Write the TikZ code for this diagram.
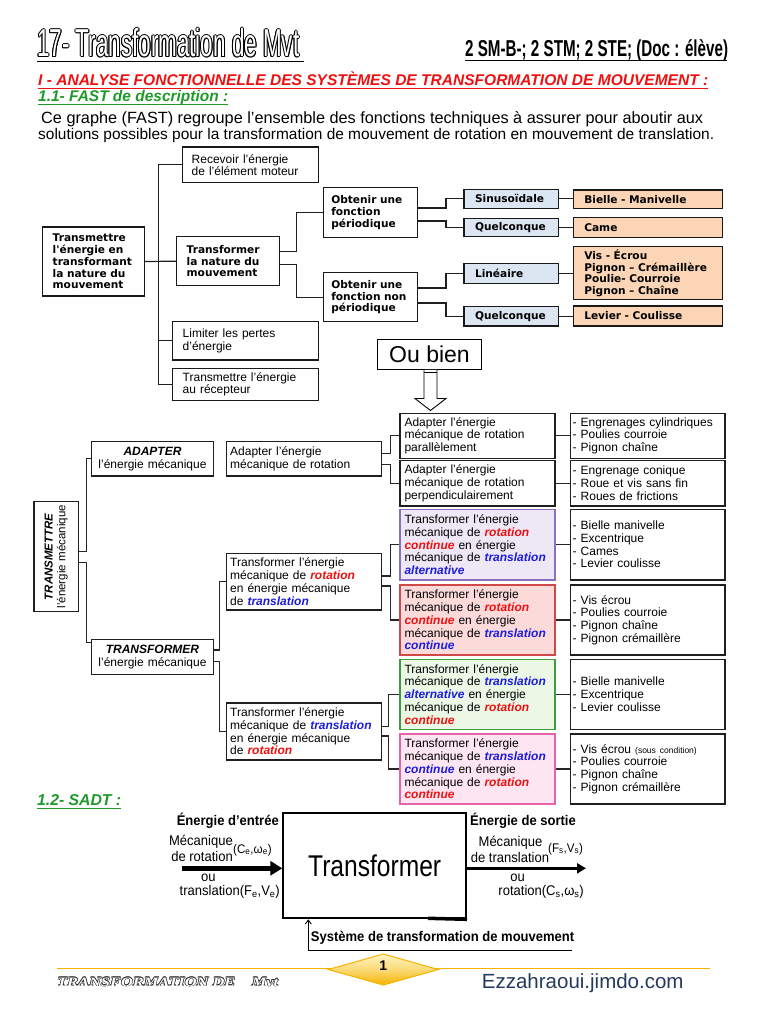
\documentclass[tikz,border=0pt]{standalone}
\usepackage{fontspec}
\usepackage{graphicx}
\setmainfont{Liberation Sans}
\newfontfamily\dvs{DejaVu Sans}
\newfontfamily\lserif{Liberation Serif}
\usetikzlibrary{arrows.meta}
\hyphenpenalty=10000 \exhyphenpenalty=10000
\definecolor{rd}{HTML}{F01010}
\definecolor{bl}{HTML}{1C1CE0}
\definecolor{bluebox}{HTML}{DCE6F2}
\definecolor{orbox}{HTML}{FBD5B5}
\definecolor{pufill}{HTML}{EDE7F6}\definecolor{pudraw}{HTML}{8A6FBF}
\definecolor{refill}{HTML}{FCDADA}\definecolor{redraw}{HTML}{D0484A}
\definecolor{grfill}{HTML}{EBF8E6}\definecolor{grdraw}{HTML}{3E9B3E}
\definecolor{pkfill}{HTML}{FDE5F1}\definecolor{pkdraw}{HTML}{E563A9}
\definecolor{hgreen}{HTML}{1E9A2A}
\definecolor{urlc}{HTML}{243A5E}
\definecolor{foot}{HTML}{F5B300}
\definecolor{footl}{HTML}{FFF4C4}
\newcommand\myrot[1]{\textcolor{rd}{\bfseries\itshape #1}}
\newcommand\mytrn[1]{\textcolor{bl}{\bfseries\itshape #1}}
\newcommand\nw[1]{\scalebox{0.93}[1]{#1}}
\newcommand\titletext{\scalebox{0.575}[1]{\fontsize{39}{39}\selectfont 17- Transformation de Mvt}}
\newcommand\foottext{\resizebox{221pt}{8.5pt}{\lserif\bfseries\itshape TRANSFORMATION DE\quad Mvt}}
% #1 style, #2 name, #3 x1, #4 y1, #5 x2, #6 y2, #7 pad, #8 text
\newcommand\mybx[8]{%
  \pgfmathsetmacro\bxw{#5-#3}\pgfmathsetmacro\bxh{#6-#4}%
  \pgfmathsetmacro\bxt{#5-#3-2*#7}%
  \pgfmathsetmacro\bxcx{(#3+#5)/2}\pgfmathsetmacro\bxcy{(#4+#6)/2}%
  \node[#1, minimum width=\bxw pt, minimum height=\bxh pt, text width=\bxt pt,
        inner xsep=#7 pt, inner ysep=0pt] (#2) at (\bxcx,\bxcy) {#8};}
\tikzset{
  f1b/.style={draw=black!90, line width=1.3pt, fill=white, align=left,
              font=\dvs\bfseries\fontsize{10.6}{11.8}\selectfont},
  f1r/.style={draw=black!90, line width=1.3pt, fill=white, align=left,
              font=\fontsize{12}{12.3}\selectfont},
  f2/.style={draw=black!88, line width=1.2pt, fill=white, align=left,
             font=\fontsize{12}{12.7}\selectfont},
  c1/.style={draw=black!88, line width=1.2pt},
  c2/.style={draw=black!85, line width=1.1pt},
  lab/.style={inner sep=0pt, font=\fontsize{14}{14}\selectfont},
}
\begin{document}
\begin{tikzpicture}[x=1pt,y=-1pt]
\fill[white] (0,0) rectangle (768,1024);
\useasboundingbox (0,0) rectangle (768,1024);

% ---------------- header
\foreach \dx/\dy in {-1/0,1/0,0/-1,0/1,-0.7/-0.7,0.7/0.7,-0.7/0.7,0.7/-0.7}
  \node[anchor=base west, inner sep=0pt] at (37+\dx,57+\dy) {\titletext};
\node[anchor=base west, inner sep=0pt, text=white] (title) at (37,57) {\titletext};
\draw[line width=1.5pt] (37,61.5) -- (304,61.5);
\node[anchor=base west, inner sep=0pt] (cls) at (465,56.5)
  {\scalebox{0.66}[1]{\fontsize{23}{23}\selectfont\bfseries 2 SM-B-; 2 STM; 2 STE; (Doc : élève)}};
\draw[line width=1.5pt] (465,60.5) -- (727,60.5);
\node[anchor=base west, inner sep=0pt, text=rd] (h1) at (38,85.5)
  {\resizebox{670pt}{!}{\bfseries\itshape I - ANALYSE FONCTIONNELLE DES SYSTÈMES DE TRANSFORMATION DE MOUVEMENT :}};
\draw[rd, line width=1pt] (38,88.5) -- (708,88.5);
\node[anchor=base west, inner sep=0pt, text=hgreen] (h2) at (38,101.5)
  {\resizebox{190pt}{!}{\bfseries\itshape 1.1- FAST de description :}};
\draw[hgreen, line width=1pt] (38,104.5) -- (228,104.5);
\node[anchor=base west, inner sep=0pt] (p1) at (41,124)
  {\resizebox{662pt}{!}{Ce graphe (FAST) regroupe l’ensemble des fonctions techniques à assurer pour aboutir aux}};
\node[anchor=base west, inner sep=0pt] (p2) at (38,140)
  {\resizebox{676pt}{!}{solutions possibles pour la transformation de mouvement de rotation en mouvement de translation.}};

% ---------------- FAST 1
\mybx{f1b}{A}{42.7}{227}{144.3}{296}{10}{Transmettre\\l'énergie en\\transformant\\la nature du\\mouvement}
\mybx{f1r}{R1}{182.7}{147}{318.7}{182.7}{9}{Recevoir l'énergie\\de l'élément moteur}
\mybx{f1b}{T}{176.7}{236.7}{279.3}{285.7}{10}{Transformer\\la nature du\\mouvement}
\mybx{f1r}{L}{172.7}{321.7}{318.7}{360}{10}{Limiter les pertes\\d'énergie}
\mybx{f1r}{M}{172.7}{368.3}{318.7}{400.5}{10}{Transmettre l'énergie\\au récepteur}
\mybx{f1b}{O1}{323.3}{187.3}{417.3}{237.3}{8}{Obtenir une\\fonction\\périodique}
\mybx{f1b}{O2}{323.3}{272.7}{417.3}{321.7}{8}{Obtenir une\\fonction non\\périodique}
\mybx{f1b,fill=bluebox}{S1}{464}{189.3}{558.7}{208.3}{11}{Sinusoïdale}
\mybx{f1b,fill=bluebox}{Q1}{464}{218.3}{558.7}{236.7}{11}{Quelconque}
\mybx{f1b,fill=bluebox}{Li}{464}{263.3}{558.7}{283.3}{11}{Linéaire}
\mybx{f1b,fill=bluebox}{Q2}{464}{306.7}{558.7}{326}{11}{Quelconque}
\mybx{f1b,fill=orbox}{B1}{573.3}{190}{722.3}{208.3}{11}{Bielle - Manivelle}
\mybx{f1b,fill=orbox}{B2}{573.3}{217.3}{722.3}{237.3}{11}{Came}
\mybx{f1b,fill=orbox,font=\dvs\bfseries\fontsize{10.6}{11.5}\selectfont}{B3}{573.3}{246.7}{722.3}{299.3}{11}{Vis - Écrou\\Pignon – Crémaillère\\Poulie- Courroie\\Pignon – Chaîne}
\mybx{f1b,fill=orbox}{B4}{573.3}{306}{722.3}{326}{11}{Levier - Coulisse}

\coordinate (v1) at (158.3,0);
\coordinate (v2) at (296.7,0);
\coordinate (v3) at (446,0);
\draw[c1] (A.east) -- (T.west);
\draw[c1] (R1.west) -| (v1 |- M.west) -- (M.west);
\draw[c1] (L.west) -- (v1 |- L.west);
\draw[c1] ([yshift=9.5pt]T.east) -| (v2 |- O1.west) -- (O1.west);
\draw[c1] ([yshift=-3pt]T.east) -| (v2 |- O2.west) -- (O2.west);
\draw[c1] ([yshift=4.3pt]O1.east) -| (v3 |- S1.west) -- (S1.west);
\draw[c1] ([yshift=-8.7pt]O1.east) -| (v3 |- Q1.west) -- (Q1.west);
\draw[c1] ([yshift=9.2pt]O2.east) -| (v3 |- Li.west) -- (Li.west);
\draw[c1] ([yshift=-5.8pt]O2.east) -| (v3 |- Q2.west) -- (Q2.west);
\draw[c1] (S1.east) -- (S1.east -| B1.west);
\draw[c1] (Q1.east) -- (Q1.east -| B2.west);
\draw[c1] (Li.east) -- (Li.east -| B3.west);
\draw[c1] (Q2.east) -- (Q2.east -| B4.west);

% ---------------- Ou bien
\node[draw, line width=1pt, minimum width=104.4pt, minimum height=30pt, inner sep=0pt,
      font=\fontsize{23}{23}\selectfont] (ob) at (429.5,354.3) {Ou bien};
\draw[line width=0.9pt, fill=white] ([xshift=-5.5pt]ob.south) -- ++(0,28.7) -- ++(-9,0)
   -- ++(15.5,12) -- ++(15.5,-12) -- ++(-9,0) -- ([xshift=7.5pt]ob.south);
\draw[line width=0.8pt] ([xshift=-5.5pt,yshift=-3pt]ob.south) -- ([xshift=7.5pt,yshift=-3pt]ob.south);

% ---------------- FAST 2
\node[f2, rotate=90, align=center, minimum width=110pt, minimum height=44.3pt, inner sep=0pt,
      text width=106pt, font=\fontsize{11.5}{12.7}\selectfont] (TM) at (56.15,556.7)
      {\textbf{\textit{TRANSMETTRE}}\\l’énergie mécanique};
\mybx{f2,align=center}{AD}{91.7}{441.7}{213.3}{476}{2}{\textbf{\textit{ADAPTER}}\\l’énergie mécanique}
\mybx{f2,align=center}{TF}{91.7}{639.3}{213.3}{674.3}{2}{\textbf{\textit{TRANSFORMER}}\\l’énergie mécanique}
\mybx{f2}{Ad}{226.7}{441.7}{381.7}{476}{3.5}{Adapter l’énergie\\mécanique de rotation}
\mybx{f2}{R2T}{226.7}{553.3}{381.7}{610}{3.5}{Transformer l’énergie\\mécanique de \myrot{rotation}\\en énergie mécanique\\de \mytrn{translation}}
\mybx{f2}{T2R}{226.7}{703}{381.7}{760}{3.5}{Transformer l’énergie\\mécanique de \mytrn{translation}\\en énergie mécanique\\de \myrot{rotation}}
\mybx{f2}{Par}{400}{413.3}{555}{458.3}{4.5}{Adapter l’énergie\\mécanique de rotation\\parallèlement}
\mybx{f2}{Perp}{400}{460.7}{555}{506}{4.5}{Adapter l’énergie\\mécanique de rotation\\perpendiculairement}
\mybx{f2,draw=pudraw,fill=pufill}{Pu}{400}{509.3}{555}{580}{4.5}{Transformer l’énergie\\mécanique de \myrot{rotation}\\\myrot{continue} en énergie\\mécanique de \mytrn{translation}\\\mytrn{alternative}}
\mybx{f2,draw=redraw,fill=refill}{Re}{400}{585}{555}{655}{4.5}{Transformer l’énergie\\mécanique de \myrot{rotation}\\\myrot{continue} en énergie\\mécanique de \mytrn{translation}\\\mytrn{continue}}
\mybx{f2,draw=grdraw,fill=grfill}{Gr}{400}{659.3}{555}{729.3}{4.5}{Transformer l’énergie\\mécanique de \mytrn{translation}\\\mytrn{alternative} en énergie\\mécanique de \myrot{rotation}\\\myrot{continue}}
\mybx{f2,draw=pkdraw,fill=pkfill}{Pk}{400}{734}{555}{804}{4.5}{Transformer l’énergie\\mécanique de \mytrn{translation}\\\mytrn{continue} en énergie\\mécanique de \myrot{rotation}\\\myrot{continue}}
\mybx{f2}{L1}{570.7}{413.3}{725}{458.3}{2}{- Engrenages cylindriques\\- Poulies courroie\\- Pignon chaîne}
\mybx{f2}{L2}{570.7}{460.7}{725}{506}{2}{- Engrenage conique\\- Roue et vis sans fin\\- Roues de frictions}
\mybx{f2}{L3}{570.7}{509.3}{725}{580}{2}{- Bielle manivelle\\- Excentrique\\- Cames\\- Levier coulisse}
\mybx{f2}{L4}{570.7}{585}{725}{655}{2}{- Vis écrou\\- Poulies courroie\\- Pignon chaîne\\- Pignon crémaillère}
\mybx{f2}{L5}{570.7}{659.3}{725}{729.3}{2}{- Bielle manivelle\\- Excentrique\\- Levier coulisse}
\mybx{f2}{L6}{570.7}{734}{725}{804}{2}{- Vis écrou {\fontsize{8.5}{10}\selectfont(sous condition)}\\- Poulies courroie\\- Pignon chaîne\\- Pignon crémaillère}

\coordinate (w1) at (86.3,0);
\coordinate (w2) at (390.7,0);
\coordinate (w3) at (219.3,0);
\coordinate (w4) at (388.5,0);
\coordinate (tmU) at ([yshift=5pt]TM.south);
\coordinate (tmD) at ([yshift=-6pt]TM.south);
\coordinate (tfIn) at ([yshift=14pt]TF.west);
\draw[c2] (tmU) -| (w1 |- AD.west) -- (AD.west);
\draw[c2] (tmD) -| (w1 |- tfIn) -- (tfIn);
\draw[c2] ([yshift=5.5pt]Ad.east) -| (w2 |- Par.west) -- (Par.west);
\draw[c2] ([yshift=-6pt]Ad.east) -| (w2 |- Perp.west) -- (Perp.west);
\draw[c2] ([yshift=6.8pt]TF.east) -| (w3 |- R2T.west) -- (R2T.west);
\draw[c2] ([yshift=-4.9pt]TF.east) -| (w3 |- T2R.west) -- (T2R.west);
\draw[c2] ([yshift=5.65pt]R2T.east) -| (w2 |- Pu.west) -- (Pu.west);
\draw[c2] ([yshift=-4.35pt]R2T.east) -| (w2 |- Re.west) -- (Re.west);
\draw[c2] ([yshift=4.8pt]T2R.east) -| (w4 |- Gr.west) -- (Gr.west);
\draw[c2] ([yshift=-4.5pt]T2R.east) -| (w4 |- Pk.west) -- (Pk.west);
\draw[c2] (Par.east) -- (Par.east -| L1.west);
\draw[c2] (Perp.east) -- (Perp.east -| L2.west);
\draw[c2] (Pu.east) -- (Pu.east -| L3.west);
\draw[c2] (Re.east) -- (Re.east -| L4.west);
\draw[c2] (Gr.east) -- (Gr.east -| L5.west);
\draw[c2] (Pk.east) -- (Pk.east -| L6.west);

% ---------------- SADT
\node[anchor=base west, inner sep=0pt, text=hgreen] (h3) at (37,805)
  {\resizebox{84pt}{!}{\bfseries\itshape 1.2- SADT :}};
\draw[hgreen, line width=1pt] (37,808.5) -- (121,808.5);
\node[draw, line width=2pt, minimum width=182.7pt, minimum height=105.6pt, inner sep=0pt]
   (SB) at (374.65,865.5) {\scalebox{0.82}[1]{\fontsize{30}{30}\selectfont Transformer}};
\draw[line width=3.5pt] (428,918.3) -- (SB.south east);
\coordinate (inS) at (181.7,868.3);
\coordinate (outE) at (586,868.3);
\draw[line width=5pt, -{Triangle[length=12pt,width=14pt]}] (inS) -- (SB.west |- inS);
\draw[line width=2.8pt, -{Triangle[length=9pt,width=10pt]}] (SB.east |- outE) -- (outE);
\coordinate (mc) at (571.7,950);
\coordinate (mcl) at (308.3,950);
\draw[line width=0.9pt, -{Straight Barb[length=4pt,width=6pt]}] (mc) -- (mcl) -- (mcl |- SB.south);
\node[lab, anchor=base east] (ein) at (279,825) {\nw{\bfseries Énergie d'entrée}};
\node[lab, anchor=base east] (em) at (233,845) {\nw{Mécanique}};
\node[lab, anchor=base east] (er) at (233,861) {\nw{de rotation}};
\node[lab, anchor=base west, font=\fontsize{12.5}{12.5}\selectfont] (ec) at (233,853) {\nw{(C\textsubscript{e},ω\textsubscript{e})}};
\node[lab, anchor=base] (eou) at (208.3,881) {\nw{ou}};
\node[lab, anchor=base east] (et) at (280,895.5) {\nw{translation(F\textsubscript{e},V\textsubscript{e})}};
\node[lab, anchor=base west] (sin) at (470,825) {\nw{\bfseries Énergie de sortie}};
\node[lab, anchor=base] (sm) at (510.5,846) {\nw{Mécanique}};
\node[lab, anchor=base west] (st) at (470.7,862) {\nw{de translation}};
\node[lab, anchor=base west, font=\fontsize{12.5}{12.5}\selectfont] (sc) at (548,852) {\nw{(F\textsubscript{s},V\textsubscript{s})}};
\node[lab, anchor=base] (sou) at (517.5,881) {\nw{ou}};
\node[lab, anchor=base east] (sr) at (584,895.5) {\nw{rotation(C\textsubscript{s},ω\textsubscript{s})}};
\node[lab, anchor=base west] (sys) at (310.7,941.5) {\nw{\bfseries Système de transformation de mouvement}};

% ---------------- footer
\draw[foot, line width=1pt] (57,968.3) -- (710,968.3);
\shade[top color=footl, bottom color=foot, middle color=footl!60!foot]
   (328.3,969.5) -- (383.3,954) -- (438.3,969.5) -- (383.3,985) -- cycle;
\draw[foot, line width=1pt] (328.3,969.5) -- (383.3,954) -- (438.3,969.5) -- (383.3,985) -- cycle;
\node[inner sep=0pt, font=\fontsize{14}{14}\selectfont\bfseries] (pg) at (383.3,966) {1};
\foreach \dx/\dy in {-0.6/0,0.6/0,0/-0.6,0/0.6,-0.45/-0.45,0.45/0.45,-0.45/0.45,0.45/-0.45}
  \node[anchor=base west, inner sep=0pt, text=black!80] at (57+\dx,986+\dy) {\foottext};
\node[anchor=base west, inner sep=0pt, text=white] (ft) at (57,986) {\foottext};
\node[anchor=base west, inner sep=0pt, text=urlc, font=\fontsize{20.5}{20.5}\selectfont] (url) at (481.7,988.5) {Ezzahraoui.jimdo.com};
\end{tikzpicture}
\end{document}
